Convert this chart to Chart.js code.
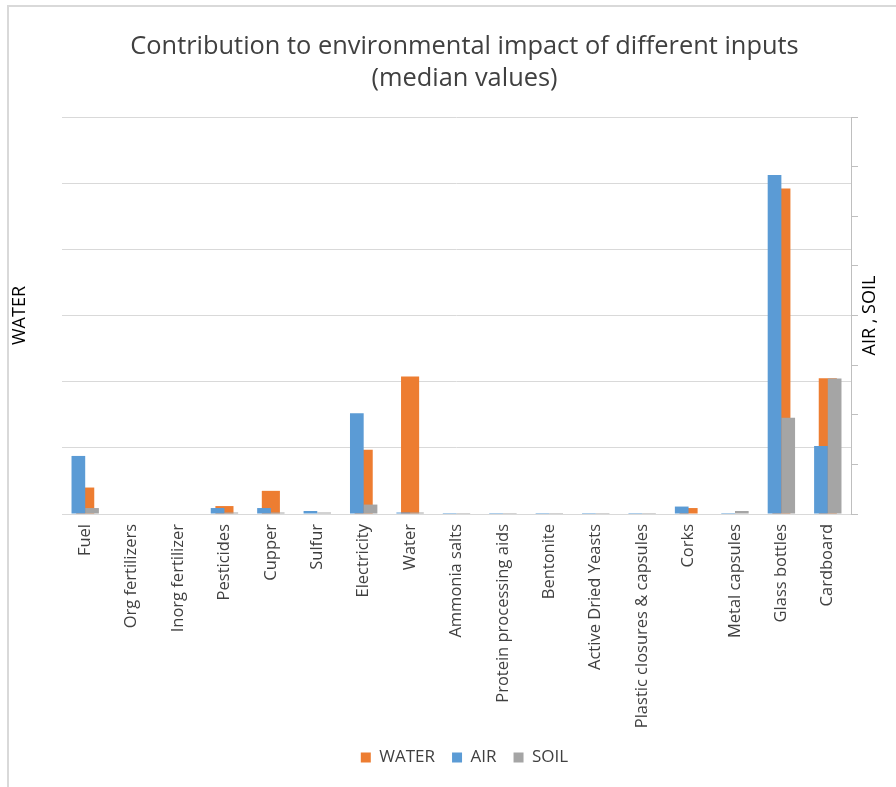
<!DOCTYPE html>
<html>
<head>
<meta charset="utf-8">
<script src="https://cdn.jsdelivr.net/npm/chart.js@4.4.0/dist/chart.umd.min.js"></script>
<style>
html, body { margin: 0; padding: 0; background: #fff; }
#wrap { position: relative; width: 896px; height: 787px; overflow: hidden; }
#frame { position: absolute; left: 7px; top: 5px; width: 1000px; height: 1000px;
         border-top: 2px solid #d9d9d9; border-left: 2px solid #d9d9d9;
         box-sizing: border-box; pointer-events: none; }
canvas { position: absolute; left: 0; top: 0; }
</style>
</head>
<body>
<div id="wrap">
  <div id="frame"></div>
  <canvas id="chart" width="896" height="787"></canvas>
</div>
<script>
// Inputs of the production chain
const categories = [
  'Fuel', 'Org fertilizers', 'Inorg fertilizer', 'Pesticides', 'Cupper', 'Sulfur',
  'Electricity', 'Water', 'Ammonia salts', 'Protein processing aids', 'Bentonite',
  'Active Dried Yeasts', 'Plastic closures & capsules', 'Corks', 'Metal capsules',
  'Glass bottles', 'Cardboard'
];

// Median impact per input (WATER on the left axis, AIR and SOIL on the right axis)
const waterValues = [0.40, 0, 0, 0.12, 0.35, 0, 0.97, 2.08, 0, 0, 0, 0, 0, 0.09, 0, 4.92, 2.05];
const airValues   = [1.17, 0, 0, 0.12, 0.12, 0.06, 2.03, 0.03, 0.02, 0.02, 0.02, 0.02, 0.02, 0.15, 0.02, 6.83, 1.37];
const soilValues  = [0.12, 0, 0, 0.03, 0.03, 0.03, 0.19, 0.03, 0.02, 0.02, 0.02, 0.02, 0.02, 0.01, 0.06, 1.94, 2.73];

// Axis ranges (no numeric labels are shown)
const waterAxisMax = 6;
const airSoilAxisMax = 8;

const legendOrder = ['WATER', 'AIR', 'SOIL'];

const FONT = '"Open Sans", Lato, sans-serif';
Chart.defaults.font.family = FONT;
Chart.defaults.color = '#404040';

// Bars of the secondary axis get their own controller type so that they are
// grouped among themselves, while the WATER bar sits centred behind them.
class SecondaryBarController extends Chart.BarController {
  static id = 'secondaryBar';
  static defaults = Chart.BarController.defaults;
  static overrides = Chart.BarController.overrides;
}
Chart.register(SecondaryBarController);

// Title of the secondary axis, reading bottom-to-top like the primary one
const rightAxisTitle = {
  id: 'rightAxisTitle',
  afterDraw(chart) {
    const s = chart.scales.y2;
    const ctx = chart.ctx;
    ctx.save();
    ctx.translate(s.left + 19, (s.top + s.bottom) / 2);
    ctx.rotate(-Math.PI / 2);
    ctx.font = '18px ' + FONT;
    ctx.fillStyle = '#000';
    ctx.textAlign = 'center';
    ctx.textBaseline = 'middle';
    ctx.fillText('AIR , SOIL', 0, 0);
    ctx.restore();
  }
};

new Chart(document.getElementById('chart'), {
  type: 'bar',
  data: {
    labels: categories,
    datasets: [
      { type: 'secondaryBar', label: 'AIR', data: airValues, backgroundColor: '#5B9BD5',
        xAxisID: 'x', yAxisID: 'y2', order: 1, categoryPercentage: 0.59, barPercentage: 1 },
      { type: 'secondaryBar', label: 'SOIL', data: soilValues, backgroundColor: '#A5A5A5',
        xAxisID: 'x', yAxisID: 'y2', order: 2, categoryPercentage: 0.59, barPercentage: 1 },
      { type: 'bar', label: 'WATER', data: waterValues, backgroundColor: '#ED7D31',
        xAxisID: 'x', yAxisID: 'y', order: 3, categoryPercentage: 0.39, barPercentage: 1 }
    ]
  },
  options: {
    responsive: false,
    animation: false,
    events: [],
    layout: { padding: { left: 33, right: 0, top: 0, bottom: 11 } },
    plugins: {
      title: {
        display: true,
        text: ['Contribution to environmental impact of different inputs', '(median values)'],
        font: { size: 25.4, weight: 'normal', lineHeight: 1.26 },
        color: '#404040',
        padding: { top: 31, bottom: 22 }
      },
      legend: {
        position: 'bottom',
        labels: {
          boxWidth: 10, boxHeight: 10, padding: 17,
          font: { size: 17 }, color: '#404040',
          sort: (a, b) => legendOrder.indexOf(a.text) - legendOrder.indexOf(b.text)
        }
      },
      tooltip: { enabled: false }
    },
    scales: {
      x: {
        type: 'category',
        position: 'bottom',
        offset: true,
        grid: { display: false, drawTicks: false },
        border: { display: true, color: '#D9D9D9', width: 1 },
        ticks: { autoSkip: false, minRotation: 90, maxRotation: 90, padding: 10,
                 font: { size: 16.5 }, color: '#404040' },
        afterFit: (scale) => { scale.height = 218; }
      },
      y: {
        position: 'left',
        min: 0, max: waterAxisMax,
        ticks: { display: false, stepSize: 1 },
        grid: { color: '#D9D9D9', drawTicks: false, lineWidth: 1 },
        border: { display: false },
        title: { display: true, text: 'WATER', color: '#000', font: { size: 18 },
                 padding: { top: -24, bottom: 0 } },
        afterFit: (scale) => { scale.width = 29; }
      },
      y2: {
        position: 'right',
        min: 0, max: airSoilAxisMax,
        ticks: { display: false, stepSize: 1 },
        grid: { drawOnChartArea: false, drawTicks: true, tickLength: 7, color: '#BFBFBF' },
        border: { display: true, color: '#BFBFBF', width: 1 },
        afterFit: (scale) => { scale.width = 45; }
      }
    }
  },
  plugins: [rightAxisTitle]
});
</script>
</body>
</html>
